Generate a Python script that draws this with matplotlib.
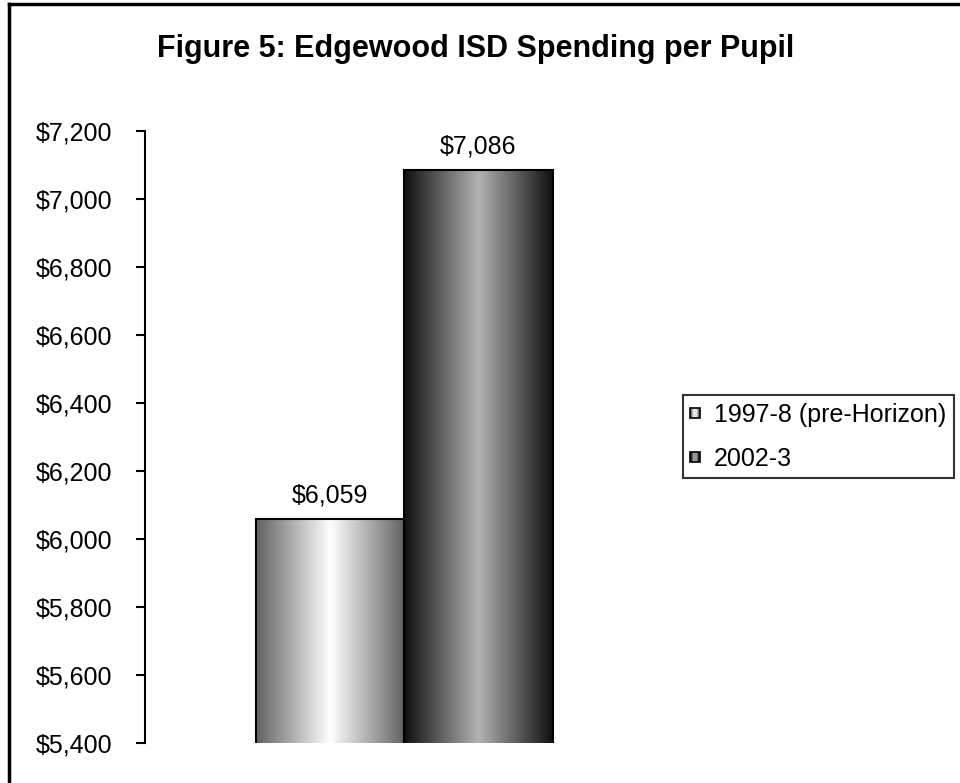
import matplotlib
matplotlib.use("Agg")
import matplotlib.pyplot as plt
import numpy as np
from matplotlib.patches import Rectangle, Patch
from matplotlib.lines import Line2D
from matplotlib.colors import LinearSegmentedColormap
from matplotlib.ticker import FuncFormatter

plt.rcParams['font.family'] = ['Liberation Sans', 'DejaVu Sans']

title = "Figure 5: Edgewood ISD Spending per Pupil"
series = ["1997-8 (pre-Horizon)", "2002-3"]
values = [6059, 7086]
labels = ["$6,059", "$7,086"]

# edge / centre grey levels of the cylinder-like shading
shades = [(0.38, 1.0), (0.06, 0.70)]
FS = 18


def shade_cmap(edge, mid):
    return LinearSegmentedColormap.from_list(
        "s", [(0, (edge,) * 3), (0.5, (mid,) * 3), (1, (edge,) * 3)])


class GradientHandler:
    def __init__(self, edge, mid):
        self.cmap = shade_cmap(edge, mid)

    def legend_artist(self, legend, orig_handle, fontsize, handlebox):
        w, h = handlebox.width, handlebox.height
        s = 0.4 * fontsize
        x0 = (w - s) / 2
        y0 = (h - s) / 2
        tr = handlebox.get_transform()
        n = 6
        for i in range(n):
            r = Rectangle((x0 + s * i / n, y0), s / n, s,
                          facecolor=self.cmap((i + 0.5) / n), edgecolor='none',
                          transform=tr)
            handlebox.add_artist(r)
        box = Rectangle((x0, y0), s, s, facecolor='none', edgecolor='black',
                        linewidth=1.2, transform=tr)
        handlebox.add_artist(box)
        return box


fig = plt.figure(figsize=(9.6, 7.83), dpi=100)
ax = fig.add_axes([0.151, 0.0511, 0.540, 0.7816])

width = 0.5
xs = np.array([-0.25, 0.25])
bars = ax.bar(xs, values, width=width, facecolor='none', edgecolor='black',
              linewidth=1.5, zorder=3)

ax.set_ylim(5400, 7200)
ax.set_xlim(-0.872, 0.872)

for b, (edge, mid) in zip(bars, shades):
    grad = np.linspace(0, 1, 256).reshape(1, -1)
    ax.imshow(grad, cmap=shade_cmap(edge, mid), aspect='auto',
              extent=[b.get_x(), b.get_x() + b.get_width(), 5400, b.get_height()],
              zorder=2, interpolation='bilinear')

for b, lab in zip(bars, labels):
    ax.annotate(lab, (b.get_x() + b.get_width() / 2, b.get_height()),
                xytext=(0, 8), textcoords='offset points',
                ha='center', va='bottom', fontsize=FS)

ax.set_xticks([])
ax.set_yticks(np.arange(5400, 7201, 200))
ax.yaxis.set_major_formatter(FuncFormatter(lambda v, p: f"${v:,.0f}"))
ax.tick_params(axis='y', direction='out', length=6.5, width=1.5, labelsize=FS, pad=17)
for s in ['top', 'right', 'bottom']:
    ax.spines[s].set_visible(False)
ax.spines['left'].set_linewidth(1.5)

fig.text(0.495, 0.937, title, ha='center', va='center', fontsize=22, fontweight='bold')

handles = [Patch(label=s) for s in series]
leg = fig.legend(handles=handles, loc='upper left', bbox_to_anchor=(0.711, 0.4955),
                 fontsize=FS, frameon=True, fancybox=False, borderpad=0.3,
                 handlelength=0.4, handleheight=0.7, handletextpad=0.55,
                 labelspacing=0.8, borderaxespad=0,
                 handler_map={handles[0]: GradientHandler(*shades[0]),
                              handles[1]: GradientHandler(*shades[1])})
leg.get_frame().set_edgecolor('black')
leg.get_frame().set_linewidth(1.5)

# chart area border (left and top edges visible)
fig.add_artist(Line2D([0.0094, 0.0094], [0, 0.995], color='black', linewidth=2.5))
fig.add_artist(Line2D([0.0094, 1.0], [0.995, 0.995], color='black', linewidth=2.5))

fig.savefig("out.png", dpi=100)
